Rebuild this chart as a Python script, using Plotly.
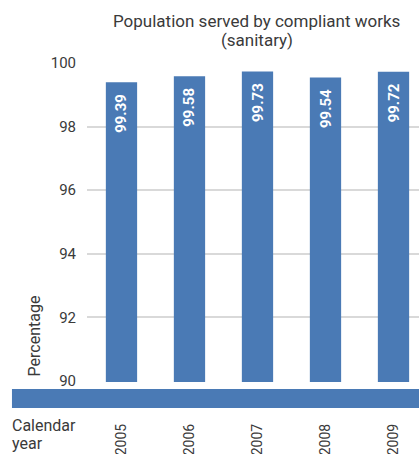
import plotly.graph_objects as go

# Share of population served by compliant sanitary works, by calendar year
years = ["2005", "2006", "2007", "2008", "2009"]
compliance_pct = [99.39, 99.58, 99.73, 99.54, 99.72]
y_ticks = [90, 92, 94, 96, 98, 100]

BLUE = "#4a7ab5"
TEXT = "#3a3a3a"
FONT = "Roboto"

W, H = 419, 454
L, R, T, B = 87, 0, 62, 72
PLOT_H = H - T - B


def paper_y(px):
    """Convert a pixel row (from the top of the page) to paper y."""
    return (H - B - px) / PLOT_H


fig = go.Figure()

fig.add_trace(go.Bar(
    x=years,
    y=compliance_pct,
    marker=dict(color=BLUE, line=dict(width=0)),
    width=0.46,
    hoverinfo="skip",
))

# Value labels, rotated, a fixed distance below each bar top
for i, v in enumerate(compliance_pct):
    fig.add_annotation(
        x=i, y=v, xref="x", yref="y",
        text=f"<b>{v:.2f}</b>", textangle=-90,
        xanchor="center", yanchor="middle", yshift=-31,
        showarrow=False,
        font=dict(family=FONT, size=15, color="white"),
    )

# Band below the plot
fig.add_shape(
    type="rect", xref="paper", yref="paper",
    x0=-0.226, x1=1.0, y0=paper_y(389), y1=paper_y(408),
    fillcolor=BLUE, line=dict(width=0), layer="above",
)

for txt, py in [("Calendar", 425), ("year", 443)]:
    fig.add_annotation(
        xref="paper", yref="paper", x=-0.229, y=paper_y(py),
        xanchor="left", yanchor="middle", align="left",
        text=txt, showarrow=False, borderpad=0,
        font=dict(family=FONT, size=16, color=TEXT),
    )

fig.add_annotation(
    xref="paper", yref="paper", x=-0.157, y=paper_y(378),
    xanchor="center", yanchor="bottom", textangle=-90,
    text="Percentage", showarrow=False,
    font=dict(family=FONT, size=16, color=TEXT),
)

# Chart title, two lines
for txt, py in [("Population served by compliant works", 21), ("(sanitary)", 40)]:
    fig.add_annotation(
        xref="paper", yref="paper", x=0.512, y=paper_y(py),
        xanchor="center", yanchor="middle", borderpad=0,
        text=txt, showarrow=False,
        font=dict(family=FONT, size=17, color=TEXT),
    )

fig.update_layout(
    width=W, height=H,
    margin=dict(l=L, r=R, t=T, b=B),
    paper_bgcolor="white", plot_bgcolor="white",
    showlegend=False,
    xaxis=dict(
        type="category", range=[-0.507, 4.375],
        showgrid=False, showline=False, zeroline=False,
        tickangle=-90, ticks="", ticklabelstandoff=38,
        tickfont=dict(family=FONT, size=14, color=TEXT),
    ),
    yaxis=dict(
        range=[89.97, 100.03], tickvals=y_ticks,
        showgrid=True, gridcolor="#d9d9d9", gridwidth=2,
        showline=False, zeroline=False, ticks="",
        ticklabelstandoff=10,
        tickfont=dict(family=FONT, size=15, color=TEXT),
    ),
)

fig.write_html("out.html")
